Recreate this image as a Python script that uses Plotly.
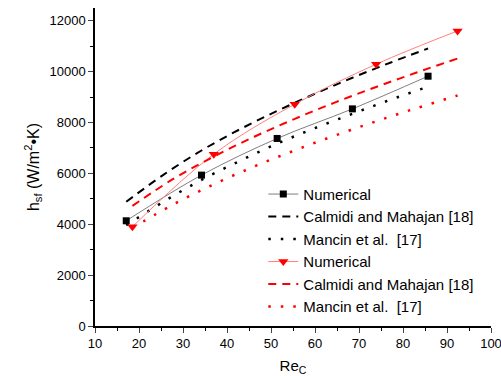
import plotly.graph_objects as go

# Black series
re_black = [17.1, 34.2, 51.4, 68.5, 85.7]
num_black = [4136, 5931, 7372, 8535, 9819]
re_black_corr = [17.1, 25.7, 34.2, 42.8, 51.4, 60.0, 68.5, 77.1, 85.7]
calmidi_black = [4882, 5960, 6898, 7720, 8454, 9130, 9757, 10350, 10910]
mancin_black = [3958, 4900, 5743, 6480, 7170, 7780, 8340, 8890, 9408]

# Red series
re_red = [18.5, 37.0, 55.4, 73.9, 92.4]
num_red = [3900, 6756, 8720, 10291, 11599]
re_red_corr = [18.5, 27.7, 37.0, 46.2, 55.4, 64.6, 73.9, 83.1, 92.4]
calmidi_red = [4720, 5770, 6660, 7440, 8142, 8790, 9395, 9965, 10514]
mancin_red = [3853, 4770, 5570, 6270, 6904, 7490, 8045, 8565, 9060]

x_ticks = [10, 20, 30, 40, 50, 60, 70, 80, 90, 100]
y_ticks = [0, 2000, 4000, 6000, 8000, 10000, 12000]

FONT = "Liberation Sans, Arial, sans-serif"

fig = go.Figure()
fig.add_trace(go.Scatter(x=re_black, y=num_black, mode="lines+markers", name="Numerical",
                         line=dict(color="#7f7f7f", width=1, shape="spline"),
                         marker=dict(symbol="square", size=7, color="black")))
fig.add_trace(go.Scatter(x=re_black_corr, y=calmidi_black, mode="lines", name="Calmidi and Mahajan [18]",
                         line=dict(color="black", width=2, dash="8px,6px", shape="spline")))
fig.add_trace(go.Scatter(x=re_black_corr, y=mancin_black, mode="lines", name="Mancin et al.  [17]",
                         line=dict(color="black", width=2.5, dash="2.5px,10px", shape="spline")))
fig.add_trace(go.Scatter(x=re_red, y=num_red, mode="lines+markers", name="Numerical",
                         line=dict(color="#ff7f7f", width=1, shape="spline"),
                         marker=dict(symbol="triangle-down", size=9, color="red")))
fig.add_trace(go.Scatter(x=re_red_corr, y=calmidi_red, mode="lines", name="Calmidi and Mahajan [18]",
                         line=dict(color="red", width=2, dash="8px,6px", shape="spline")))
fig.add_trace(go.Scatter(x=re_red_corr, y=mancin_red, mode="lines", name="Mancin et al.  [17]",
                         line=dict(color="red", width=2.5, dash="2.5px,10px", shape="spline")))

fig.update_layout(
    width=501, height=376,
    margin=dict(l=95, r=10, t=8, b=50),
    paper_bgcolor="white", plot_bgcolor="white",
    font=dict(family=FONT, color="black", size=13),
    legend=dict(x=0.425, y=0.466, xanchor="left", yanchor="top",
                bgcolor="rgba(0,0,0,0)", font=dict(size=15, family=FONT),
                tracegroupgap=0, itemwidth=30),
    xaxis=dict(range=[10, 100], tickvals=x_ticks, ticktext=[str(v) for v in x_ticks],
               ticks="outside", ticklen=5, tickwidth=1.2, automargin=False,
               ticklabeloverflow="allow",
               showline=True, linecolor="black", linewidth=1.5, showgrid=False, zeroline=False,
               tickfont=dict(size=13),
               minor=dict(ticks="outside", ticklen=3, dtick=5, tickcolor="black", tickwidth=1.2, showgrid=False),
               title=dict(text="Re<sub>C</sub>", font=dict(size=15), standoff=12)),
    yaxis=dict(range=[0, 12500], tickvals=y_ticks, ticktext=[str(v) for v in y_ticks],
               ticks="outside", ticklen=5, tickwidth=1.2, automargin=False,
               showline=True, linecolor="black", linewidth=1.5, showgrid=False, zeroline=False,
               tickfont=dict(size=13),
               minor=dict(ticks="outside", ticklen=3, dtick=1000, tickcolor="black", tickwidth=1.2, showgrid=False),
               title=dict(text="h<sub>sf</sub> (W/m<sup>2</sup>•K)", font=dict(size=16), standoff=6)),
)

fig.write_html("out.html", config={"displayModeBar": False},
               post_script="document.body.style.margin='0';")
